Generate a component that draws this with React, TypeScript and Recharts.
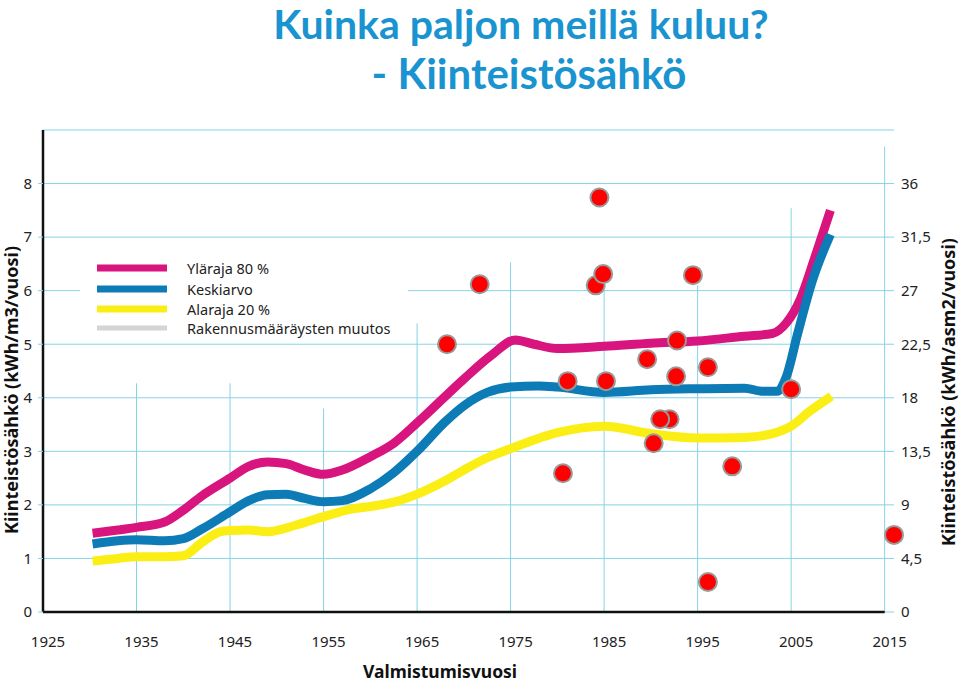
import { ComposedChart, Line, Scatter, XAxis, YAxis, CartesianGrid, ReferenceLine } from 'recharts'

// Kiinteistösähkö (kWh/m3/vuosi) by valmistumisvuosi
const upperYears = [1930.3, 1933, 1935, 1938, 1940, 1942, 1945, 1947, 1949, 1951, 1953, 1955, 1957, 1960, 1962.5, 1965, 1970, 1973, 1975.5, 1977.5, 1980, 1985, 1990, 1995, 2000, 2003, 2004.5, 2006, 2007.5, 2009.2]
const upperValues = [1.47, 1.53, 1.58, 1.68, 1.9, 2.17, 2.5, 2.72, 2.8, 2.77, 2.65, 2.57, 2.65, 2.9, 3.15, 3.53, 4.35, 4.8, 5.08, 5.0, 4.92, 4.96, 5.02, 5.06, 5.15, 5.2, 5.4, 5.85, 6.6, 7.5]

const meanYears = [1930.3, 1933, 1935, 1938, 1940, 1942, 1945, 1947, 1949, 1951, 1953, 1955, 1957, 1960, 1962.5, 1965, 1968, 1970, 1972.5, 1975, 1978, 1980, 1985, 1990, 1995, 2000, 2002, 2003.5, 2004.5, 2005.7, 2007.3, 2009.2]
const meanValues = [1.27, 1.33, 1.35, 1.33, 1.37, 1.55, 1.87, 2.08, 2.19, 2.2, 2.12, 2.06, 2.08, 2.3, 2.6, 3.0, 3.55, 3.85, 4.1, 4.2, 4.22, 4.2, 4.1, 4.15, 4.17, 4.18, 4.12, 4.12, 4.4, 5.2, 6.2, 7.05]

const lowerYears = [1930.3, 1933, 1935, 1938, 1940, 1942, 1944, 1945, 1947, 1949, 1952, 1955, 1958, 1960, 1962.5, 1965, 1968, 1970, 1972.5, 1975, 1980, 1985, 1990, 1995, 2000, 2003, 2005, 2007, 2009.3]
const lowerValues = [0.95, 1.0, 1.03, 1.03, 1.05, 1.3, 1.5, 1.52, 1.53, 1.5, 1.62, 1.78, 1.92, 1.97, 2.05, 2.2, 2.45, 2.65, 2.88, 3.05, 3.35, 3.47, 3.33, 3.25, 3.26, 3.33, 3.47, 3.75, 4.03]

const pointYears = [1968.2, 1971.7, 1984.5, 1984.1, 1984.9, 1994.5, 1992.8, 1989.6, 1981.1, 1985.2, 1992.7, 1996.1, 2005.0, 1992.0, 1991.0, 1990.3, 1980.6, 1998.7, 1996.1, 2016]
const pointValues = [5.0, 6.12, 7.74, 6.1, 6.31, 6.29, 5.07, 4.72, 4.31, 4.31, 4.4, 4.57, 4.16, 3.6, 3.6, 3.15, 2.59, 2.72, 0.56, 1.44]

// rakennusmääräysten muutos -viivat (viimeinen = oikea akseli, kWh/asm2)
const changeYears = [1935, 1945, 1955, 1965, 1975, 1985, 1995, 2005]
const changeTops = [4.27, 4.27, 3.8, 5.39, 6.53, 6.0, 6.1, 7.54]
const rightAxisYear = 2015
const rightAxisTop = 39.1

const xTicks = [1925, 1935, 1945, 1955, 1965, 1975, 1985, 1995, 2005, 2015]
const leftTicks = [0, 1, 2, 3, 4, 5, 6, 7, 8]
const rightTicks = [0, 4.5, 9, 13.5, 18, 22.5, 27, 31.5, 36]

const legendNames = ['Yläraja 80 %', 'Keskiarvo', 'Alaraja 20 %', 'Rakennusmääräysten muutos']

const MAGENTA = '#d8147e'
const BLUE = '#0c7bb6'
const YELLOW = '#fbee14'
const GREY = '#d4d4d4'
const GRID = '#86d3e6'
const TITLE = '#1a93d1'
const FONT = "'Noto Sans', sans-serif"

const toRows = (xs: number[], vs: number[]) => xs.map((x, i) => ({ x, v: vs[i] }))

const upper = toRows(upperYears, upperValues)
const mean = toRows(meanYears, meanValues)
const lower = toRows(lowerYears, lowerValues)
const points = toRows(pointYears, pointValues)

const dot = (p: any) => <circle cx={p.cx} cy={p.cy} r={9} fill="#ff0000" stroke="#9a9a9a" strokeWidth={2} />

const tickStyle = { fontSize: 15, fill: '#222', fontFamily: FONT }

export default function App() {
  const legendColors = [MAGENTA, BLUE, YELLOW, GREY]
  return (
    <div style={{ position: 'absolute', left: 0, top: 0, width: 960, height: 692, background: '#fff' }}>
      <ComposedChart width={960} height={692} margin={{ top: 130, right: 0, bottom: 0, left: 0 }}>
        <CartesianGrid vertical={false} stroke={GRID} />
        <XAxis dataKey="x" type="number" domain={[1925, 2016]} ticks={xTicks} axisLine={false} tickLine={false}
          tickSize={0} tickMargin={24} height={80} tick={{ ...tickStyle, dx: 5 }} />
        <YAxis domain={[0, 9]} ticks={leftTicks} width={43} axisLine={{ stroke: '#111', strokeWidth: 2.5 }}
          tickLine={{ stroke: GRID }} tickSize={5} tickMargin={6} tick={tickStyle} />
        <YAxis yAxisId="right" orientation="right" domain={[0, 40.5]} allowDataOverflow ticks={rightTicks} width={66}
          axisLine={false} tickLine={false} tickSize={0} tickMargin={7} tick={tickStyle}
          tickFormatter={(v: number) => String(v).replace('.', ',')} />
        {changeYears.map((yr, i) => (
          <ReferenceLine key={yr} segment={[{ x: yr, y: 0 }, { x: yr, y: changeTops[i] }]} stroke={GRID} />
        ))}
        <ReferenceLine yAxisId="right" ifOverflow="extendDomain"
          segment={[{ x: rightAxisYear, y: 0 }, { x: rightAxisYear, y: rightAxisTop }]} stroke={GRID} />
        <ReferenceLine segment={[{ x: 1925, y: 0 }, { x: 2015, y: 0 }]} stroke="#111" strokeWidth={2.5} />
        <Line data={upper} dataKey="v" type="monotone" stroke={MAGENTA} strokeWidth={9} dot={false} activeDot={false} isAnimationActive={false} />
        <Line data={mean} dataKey="v" type="monotone" stroke={BLUE} strokeWidth={9} dot={false} activeDot={false} isAnimationActive={false} />
        <Line data={lower} dataKey="v" type="monotone" stroke={YELLOW} strokeWidth={9} dot={false} activeDot={false} isAnimationActive={false} />
        <Scatter data={points} dataKey="v" shape={dot} isAnimationActive={false} />
      </ComposedChart>

      <svg width={960} height={692} style={{ position: 'absolute', left: 0, top: 0, pointerEvents: 'none' }}>
        <text x={521} y={39} textAnchor="middle" fontFamily="Lato, sans-serif" fontWeight={700} fontSize={41} fill={TITLE}>Kuinka paljon meillä kuluu?</text>
        <text x={529} y={89} textAnchor="middle" fontFamily="Lato, sans-serif" fontWeight={700} fontSize={42} fill={TITLE}>- Kiinteistösähkö</text>

        <rect x={80} y={245} width={328} height={95} fill="#fff" />
        {legendNames.map((name, i) => {
          const ly = [268, 289, 309, 328][i]
          return (
            <g key={name}>
              <line x1={97} x2={167} y1={ly} y2={ly} stroke={legendColors[i]} strokeWidth={i === 3 ? 5 : 7} />
              <text x={187} y={ly + 5.5} fontFamily={FONT} fontSize={14.5} fill="#222">{name}</text>
            </g>
          )
        })}

        <text transform="translate(18,390) rotate(-90)" textAnchor="middle" fontFamily={FONT} fontWeight={700} fontSize={18} fill="#111">Kiinteistösähkö (kWh/m3/vuosi)</text>
        <text transform="translate(955,392) rotate(-90)" textAnchor="middle" fontFamily={FONT} fontWeight={700} fontSize={18} fill="#111">Kiinteistösähkö (kWh/asm2/vuosi)</text>
        <text x={440} y={678} textAnchor="middle" fontFamily={FONT} fontWeight={700} fontSize={17.5} fill="#111">Valmistumisvuosi</text>
      </svg>
    </div>
  )
}
